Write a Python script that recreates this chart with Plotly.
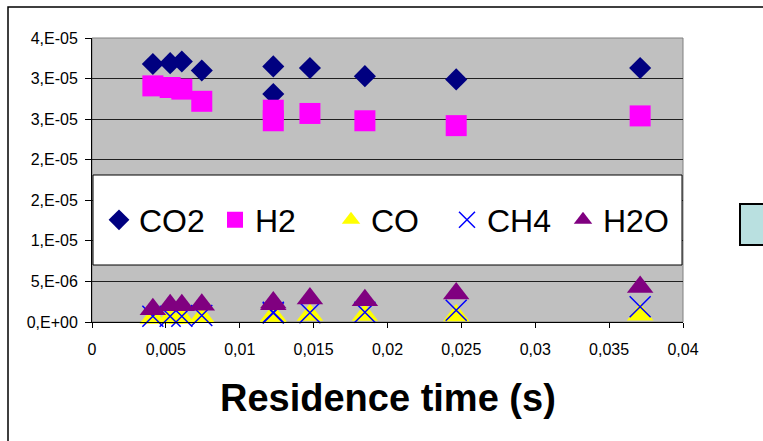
import plotly.graph_objects as go

# ---- data ----
residence_time = [0.00412, 0.00529, 0.00608, 0.00743, 0.01227, 0.01227,
                  0.01475, 0.01847, 0.02465, 0.0371]
co2 = [3.18e-5, 3.19e-5, 3.21e-5, 3.10e-5, 3.15e-5, 2.81e-5,
       3.13e-5, 3.03e-5, 2.99e-5, 3.13e-5]
h2 = [2.91e-5, 2.89e-5, 2.87e-5, 2.72e-5, 2.61e-5, 2.48e-5,
      2.57e-5, 2.48e-5, 2.42e-5, 2.54e-5]
co = [5.0e-7, 5.0e-7, 5.0e-7, 6.0e-7, 8.0e-7, 7.5e-7,
      8.5e-7, 8.5e-7, 8.0e-7, 9.0e-7]
ch4 = [7.0e-7, 7.0e-7, 7.0e-7, 8.0e-7, 1.2e-6, 1.1e-6,
       1.14e-6, 1.2e-6, 1.44e-6, 1.88e-6]
h2o = [1.57e-6, 2.06e-6, 2.06e-6, 2.12e-6, 2.4e-6, 2.2e-6,
       2.89e-6, 2.68e-6, 3.5e-6, 4.32e-6]

y_tickvals = [0, 5e-6, 1e-5, 1.5e-5, 2e-5, 2.5e-5, 3e-5, 3.5e-5]
y_ticktext = ["0,E+00", "5,E-06", "1,E-05", "2,E-05", "2,E-05", "3,E-05", "3,E-05", "4,E-05"]
x_tickvals = [0, 0.005, 0.01, 0.015, 0.02, 0.025, 0.03, 0.035, 0.04]
x_ticktext = ["0", "0,005", "0,01", "0,015", "0,02", "0,025", "0,03", "0,035", "0,04"]

FONT = "Liberation Sans, Arial, sans-serif"

W, H = 763, 441
ML, MR, MT, MB = 92, 80, 38, 119
PW, PH = W - ML - MR, H - MT - MB


def px(x):
    return (x - ML) / PW


def py(y):
    return (MT + PH - y) / PH


series = [
    ("CO2", co2, "diamond", "#000080", 17),
    ("H2", h2, "square", "#FF00FF", 21),
    ("CO", co, "triangle-up", "#FFFF00", 23),
    ("CH4", ch4, "x-thin-open", "#0000FF", 21),
    ("H2O", h2o, "triangle-up", "#800080", 23),
]

fig = go.Figure()
for name, vals, sym, col, size in series:
    marker = dict(symbol=sym, color=col, size=size)
    if sym == "x-thin-open":
        marker["line"] = dict(color=col, width=1.5)
    fig.add_trace(go.Scatter(x=residence_time, y=vals, mode="markers", name=name,
                             marker=marker, cliponaxis=False))

shapes = [
    # outer chart border
    dict(type="rect", xref="paper", yref="paper", x0=px(8), x1=px(790), y0=py(7), y1=py(460),
         line=dict(color="black", width=1.5), fillcolor="rgba(0,0,0,0)", layer="below"),
    # plot-area border (gray)
    dict(type="rect", xref="paper", yref="paper", x0=0, x1=1, y0=0, y1=1,
         line=dict(color="#808080", width=1), fillcolor="rgba(0,0,0,0)", layer="below"),
    # legend box
    dict(type="rect", xref="paper", yref="paper", x0=px(93), x1=px(682), y0=py(175), y1=py(265),
         line=dict(color="black", width=1), fillcolor="white", layer="above"),
    # stray cyan legend box on the right
    dict(type="rect", xref="paper", yref="paper", x0=px(740), x1=px(790), y0=py(204), y1=py(245),
         line=dict(color="black", width=2), fillcolor="#B9E0E0", layer="above"),
]

fig.update_layout(
    width=W, height=H,
    margin=dict(l=ML, r=MR, t=MT, b=MB, pad=0),
    paper_bgcolor="white",
    plot_bgcolor="#C0C0C0",
    font=dict(family=FONT, color="black"),
    showlegend=True,
    legend=dict(orientation="h", x=px(99), xanchor="left", y=py(220), yanchor="middle",
                bgcolor="rgba(0,0,0,0)", borderwidth=0,
                font=dict(family=FONT, size=32, color="black"),
                entrywidth=71, entrywidthmode="pixels", itemsizing="trace"),
    shapes=shapes,
    annotations=[dict(text="<b>Residence time (s)</b>", xref="paper", yref="paper",
                      x=0.5, y=py(398), xanchor="center", yanchor="middle", showarrow=False,
                      font=dict(family=FONT, size=38, color="black"))],
)

fig.update_xaxes(range=[0, 0.04], tickvals=x_tickvals, ticktext=x_ticktext,
                 showgrid=False, zeroline=False, showline=True, linecolor="black", linewidth=1,
                 ticks="outside", ticklen=5, tickcolor="black", tickwidth=1,
                 tickfont=dict(family=FONT, size=16, color="black"), ticklabelstandoff=8)
fig.update_yaxes(range=[0, 3.5e-5], tickvals=y_tickvals, ticktext=y_ticktext,
                 showgrid=True, gridcolor="#202020", gridwidth=1, zeroline=False,
                 showline=True, linecolor="black", linewidth=1,
                 ticks="outside", ticklen=6, tickcolor="black", tickwidth=1,
                 tickfont=dict(family=FONT, size=16, color="black"), ticklabelstandoff=4)

fig.write_html("out.html")
